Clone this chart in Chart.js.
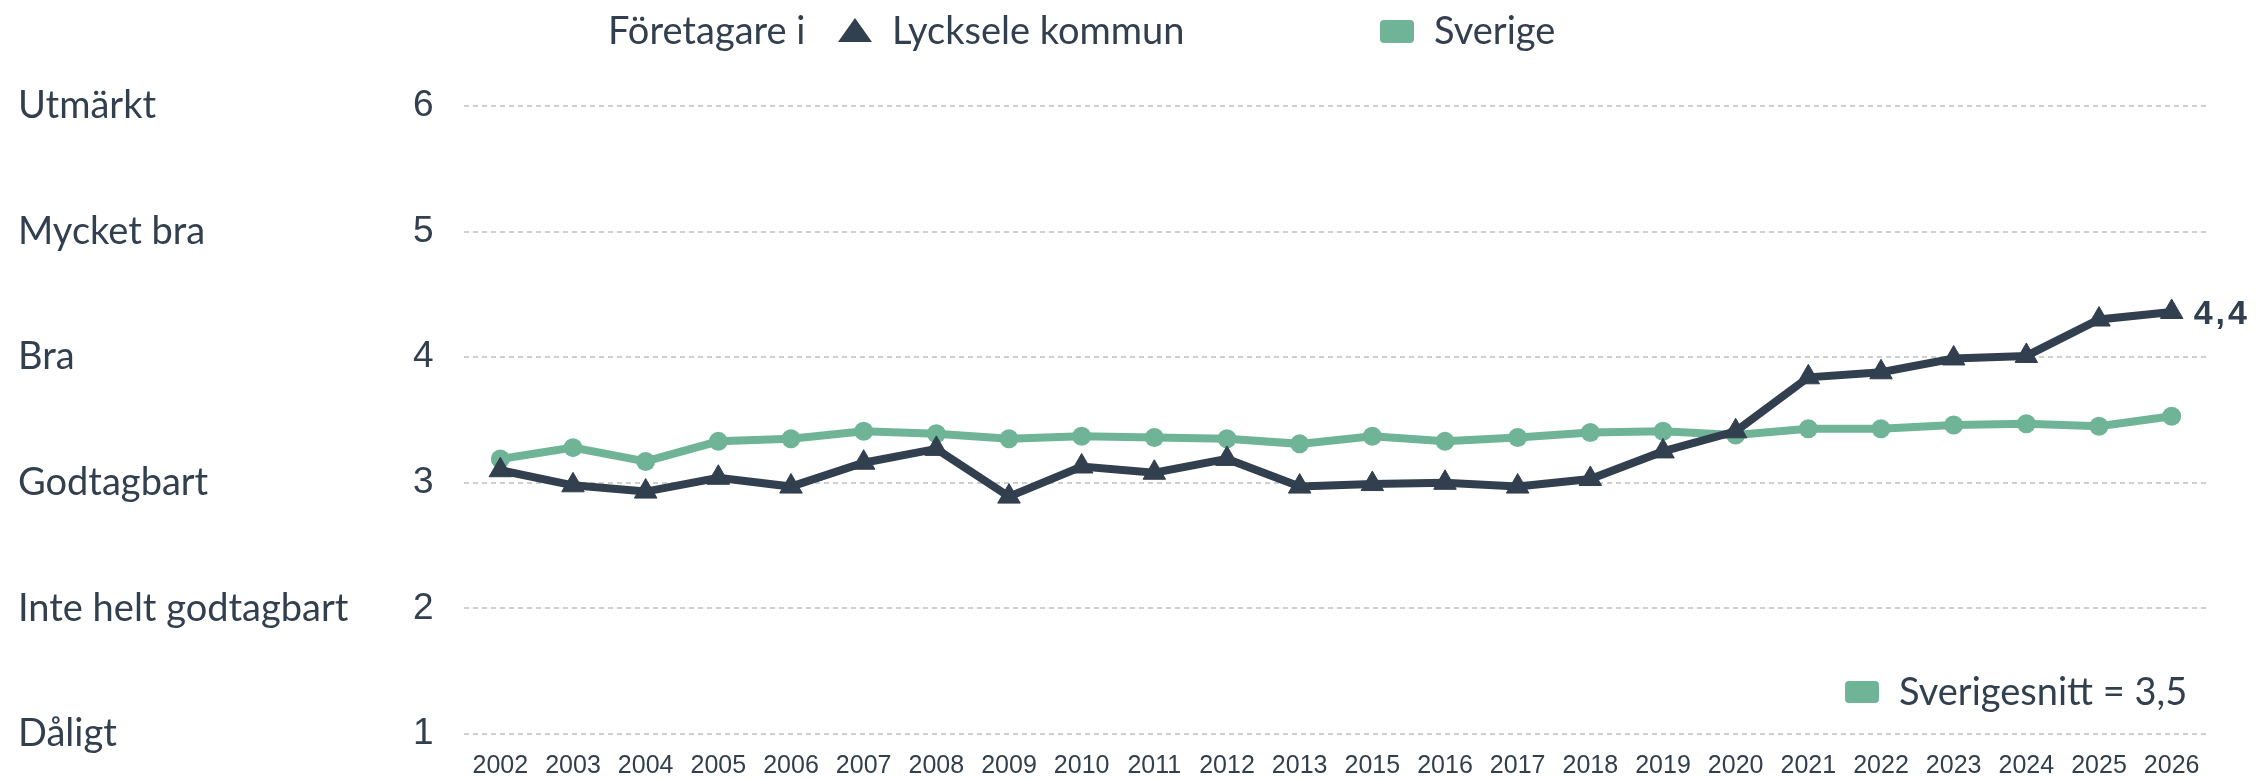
<!DOCTYPE html>
<html>
<head>
<meta charset="utf-8">
<script src="https://cdn.jsdelivr.net/npm/chart.js@4/dist/chart.umd.min.js"></script>
<style>
  html, body { margin: 0; padding: 0; background: #ffffff; }
  #wrap { width: 2260px; height: 779px; }
</style>
</head>
<body>
<div id="wrap"><canvas id="c" width="2260" height="779"></canvas></div>
<script>
const categories = ['2002','2003','2004','2005','2006','2007','2008','2009','2010','2011','2012','2013',
                    '2015','2016','2017','2018','2019','2020','2021','2022','2023','2024','2025','2026'];
const lyckseleValues = [3.10, 2.98, 2.93, 3.04, 2.97, 3.16, 3.27, 2.89, 3.13, 3.08, 3.19, 2.97,
                        2.99, 3.00, 2.97, 3.03, 3.25, 3.41, 3.84, 3.88, 3.99, 4.01, 4.30, 4.36];
const sverigeValues   = [3.19, 3.28, 3.17, 3.33, 3.35, 3.41, 3.39, 3.35, 3.37, 3.36, 3.35, 3.31,
                         3.37, 3.33, 3.36, 3.40, 3.41, 3.38, 3.43, 3.43, 3.46, 3.47, 3.45, 3.53];
const yTickValues = [1, 2, 3, 4, 5, 6];
const yTickNames  = ['Dåligt', 'Inte helt godtagbart', 'Godtagbart', 'Bra', 'Mycket bra', 'Utmärkt'];
const legendPrefix = 'Företagare i';
const seriesNames = ['Lycksele kommun', 'Sverige'];
const sverigeSnitt = 3.5;

const DARK = '#323f4e';
const GREEN = '#70b497';
const TEXTFONT = 'Lato, "Liberation Sans", sans-serif';
const NUMFONT = '"Liberation Sans", Arial, sans-serif';

function fmt(v) { return v.toFixed(1).replace('.', ','); }

const overlayPlugin = {
  id: 'overlay',
  afterDraw(chart) {
    const ctx = chart.ctx;
    ctx.save();
    // Top legend
    ctx.fillStyle = DARK;
    ctx.font = '38px ' + TEXTFONT;
    ctx.textBaseline = 'middle';
    ctx.textAlign = 'left';
    ctx.fillText(legendPrefix, 608, 32);
    // triangle
    ctx.beginPath();
    ctx.moveTo(855, 18);
    ctx.lineTo(872, 42);
    ctx.lineTo(838, 42);
    ctx.closePath();
    ctx.fillStyle = DARK;
    ctx.fill();
    ctx.fillText(chart.data.datasets[0].label, 892, 32);
    // square
    ctx.fillStyle = GREEN;
    ctx.beginPath();
    ctx.roundRect(1380, 20, 34, 23, 4);
    ctx.fill();
    ctx.fillStyle = DARK;
    ctx.fillText(chart.data.datasets[1].label, 1434, 32);

    // Bottom-right average legend
    ctx.fillStyle = GREEN;
    ctx.beginPath();
    ctx.roundRect(1845, 681, 34, 22, 4);
    ctx.fill();
    ctx.fillStyle = DARK;
    ctx.fillText('Sverigesnitt = ' + fmt(sverigeSnitt), 1899, 693);

    // End label for last Lycksele point
    const meta = chart.getDatasetMeta(0);
    const last = meta.data[meta.data.length - 1];
    const lastVal = lyckseleValues[lyckseleValues.length - 1];
    ctx.font = 'bold 34px ' + NUMFONT;
    if ('letterSpacing' in ctx) ctx.letterSpacing = '3px';
    ctx.fillStyle = DARK;
    ctx.fillText(fmt(lastVal), last.x + 22, last.y + 3);
    ctx.restore();
  }
};

new Chart(document.getElementById('c'), {
  type: 'line',
  data: {
    labels: categories,
    datasets: [
      {
        label: seriesNames[0],
        data: lyckseleValues,
        borderColor: DARK,
        backgroundColor: DARK,
        borderWidth: 8,
        pointStyle: 'triangle',
        pointRadius: 13,
        pointBorderWidth: 1,
        pointBackgroundColor: DARK,
        pointBorderColor: DARK,
        tension: 0,
        clip: false
      },
      {
        label: seriesNames[1],
        data: sverigeValues,
        borderColor: GREEN,
        backgroundColor: GREEN,
        borderWidth: 8,
        pointStyle: 'circle',
        pointRadius: 9.5,
        pointBorderWidth: 0,
        pointBackgroundColor: GREEN,
        pointBorderColor: GREEN,
        tension: 0,
        clip: false
      }
    ]
  },
  options: {
    responsive: false,
    animation: false,
    events: [],
    layout: { padding: { left: 18, right: 52, top: 106, bottom: 0 } },
    plugins: {
      legend: { display: false },
      tooltip: { enabled: false },
      title: { display: false }
    },
    scales: {
      x: {
        type: 'category',
        offset: true,
        afterFit(scale) { scale.height = 45; },
        grid: { display: false, drawTicks: false },
        border: { display: false },
        ticks: {
          padding: 18,
          color: DARK,
          font: { family: NUMFONT, size: 25, lineHeight: 1.1 },
          maxRotation: 0,
          autoSkip: false
        }
      },
      y: {
        type: 'linear',
        position: 'left',
        weight: 0,
        min: 1,
        max: 6,
        afterBuildTicks(scale) { scale.ticks = yTickValues.map(v => ({ value: v })); },
        afterFit(scale) { scale.width = 51; },
        grid: {
          color: '#cfcfcf',
          lineWidth: 2,
          drawTicks: false
        },
        border: { display: false, dash: [5, 4] },
        ticks: {
          crossAlign: 'far',
          padding: 0,
          color: DARK,
          font: { family: NUMFONT, size: 37 },
          callback: (v) => String(v)
        }
      },
      yNames: {
        type: 'linear',
        position: 'left',
        weight: 1,
        min: 1,
        max: 6,
        afterBuildTicks(scale) { scale.ticks = yTickValues.map(v => ({ value: v })); },
        afterFit(scale) { scale.width = 395; },
        grid: { display: false, drawTicks: false },
        border: { display: false },
        ticks: {
          crossAlign: 'far',
          padding: 0,
          color: DARK,
          font: { family: TEXTFONT, size: 38 },
          callback: (v) => yTickNames[yTickValues.indexOf(v)]
        }
      }
    }
  },
  plugins: [overlayPlugin]
});
</script>
</body>
</html>
